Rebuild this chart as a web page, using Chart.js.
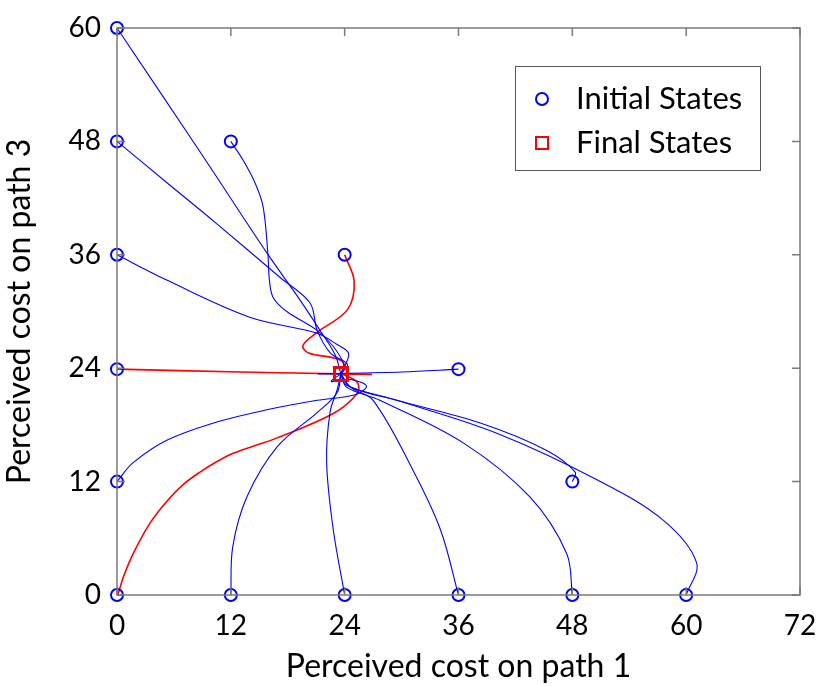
<!DOCTYPE html>
<html lang="en">
  <head>
    <meta charset="UTF-8" />
    <title>Perceived cost trajectories</title>
    <script src="https://cdn.jsdelivr.net/npm/chart.js"></script>
    <style>
      body { margin: 0; background: #fff; }
      #wrap { width: 820px; height: 686px; }
    </style>
  </head>
  <body>
    <div id="wrap"><canvas id="costChart" width="820" height="686"></canvas></div>

    <script>
      // axis ticks
      const xTicks = [0, 12, 24, 36, 48, 60, 72];
      const yTicks = [0, 12, 24, 36, 48, 60];

      // trajectories: [path1 cost, path3 cost]
      const trajFrom0_60 = [[0, 60], [8.75, 46.9], [15.8, 36.2], [19.3, 31.2], [21.4, 28.0], [23.0, 25.4], [23.6, 23.4]];
      const trajFrom0_48 = [[0, 48], [5.3, 43.6], [10.5, 39.3], [17.2, 33.6], [20.35, 30.9], [21.1, 28.0], [22.5, 25.6], [24.3, 24.4], [23.6, 23.4]];
      const trajFrom0_36 = [[0, 36], [5.3, 33.3], [14.0, 29.4], [21.1, 27.7], [23.2, 26.5], [24.4, 25.6], [24.1, 24.4], [23.6, 23.4]];
      const trajFrom12_48 = [[12, 48], [13.3, 46.0], [14.6, 43.5], [15.4, 41.1], [15.9, 36.2], [16.1, 33.0], [16.5, 31.4], [17.9, 30.0], [21.1, 28.0], [22.8, 26.3], [23.9, 24.4], [23.6, 23.4]];
      const trajFrom24_36 = [[24, 36], [25.0, 33.2], [24.3, 30.2], [21.1, 27.8], [19.6, 26.4], [20.2, 25.6], [23.2, 25.0], [24.0, 24.3], [23.6, 23.4]];
      const trajFrom0_24 = [[0, 23.9], [13, 23.6], [26.7, 23.35], [23.6, 23.4]];
      const trajFrom36_24 = [[36, 23.9], [30, 23.6], [21.3, 23.4], [23.6, 23.4]];
      const trajFrom0_12 = [[0, 12], [1.7, 14.0], [5.3, 16.4], [10.5, 18.3], [15.8, 19.6], [21.1, 20.6], [25.1, 21.2], [26.3, 22.1], [24.6, 22.8], [22.6, 22.6], [23.6, 23.4]];
      const trajFrom0_0 = [[0, 0], [0.14, 0.2], [0.67, 1.9], [1.72, 4.4], [3.48, 7.6], [5.24, 9.9], [7.0, 11.7], [8.75, 13.0], [10.5, 14.1], [12.26, 15.0], [14.5, 15.8], [16.83, 16.6], [22.8, 19.2], [25.3, 21.3], [25.4, 22.4], [24.6, 23.0], [23.6, 23.4]];
      const trajFrom12_0 = [[12, 0], [12.2, 5.1], [13.7, 10.4], [16.9, 15.7], [21.1, 19.3], [23.2, 21.4], [23.6, 23.4]];
      const trajFrom24_0 = [[24, 0], [22.8, 6.9], [22.1, 14.0], [22.45, 19.3], [23.2, 21.7], [23.6, 23.4]];
      const trajFrom36_0 = [[36, 0], [34.1, 6.9], [31.2, 13.2], [27.0, 20.6], [24.6, 22.0], [23.6, 23.4]];
      const trajFrom48_0 = [[48, 0], [47.4, 4.4], [43.5, 10.4], [36.5, 16.1], [27.7, 20.6], [24.2, 22.0], [23.6, 23.4]];
      const trajFrom60_0 = [[60, 0], [61.1, 3.4], [57.6, 7.9], [50.6, 12.2], [40.1, 17.1], [29.5, 20.6], [24.2, 22.2], [23.6, 23.4]];
      const trajFrom48_12 = [[48, 12], [48.3, 13.0], [45.3, 15.3], [38.3, 18.2], [29.5, 20.6], [24.6, 22.0], [23.6, 23.4]];

      const blueTrajectories = [trajFrom0_60, trajFrom0_48, trajFrom0_36, trajFrom12_48, trajFrom36_24, trajFrom0_12,
        trajFrom12_0, trajFrom24_0, trajFrom36_0, trajFrom48_0, trajFrom60_0, trajFrom48_12];
      const redTrajectories = [trajFrom24_36, trajFrom0_24, trajFrom0_0];

      const allTrajectories = blueTrajectories.concat(redTrajectories);
      const toXY = (p) => ({ x: p[0], y: p[1] });
      const initialStates = allTrajectories.map((t) => toXY(t[0]));
      const finalStates = allTrajectories.map((t) => toXY(t[t.length - 1]));

      const FONT = "Lato, 'Open Sans', sans-serif";

      const lineSet = (pts, color, width) => ({
        data: pts.map(toXY),
        showLine: true,
        borderColor: color,
        borderWidth: width,
        pointRadius: 0,
        tension: 0.35,
        clip: false,
        order: 2,
      });

      // frame with inward ticks, MATLAB style
      const framePlugin = {
        id: "frame",
        afterDatasetsDraw(chart) {
          const { ctx, chartArea: a, scales } = chart;
          ctx.save();
          ctx.strokeStyle = "#7a7a7a";
          ctx.lineWidth = 1.5;
          ctx.strokeRect(a.left, a.top, a.right - a.left, a.bottom - a.top);
          ctx.beginPath();
          xTicks.forEach((v) => {
            const px = scales.x.getPixelForValue(v);
            ctx.moveTo(px, a.bottom); ctx.lineTo(px, a.bottom - 8);
            ctx.moveTo(px, a.top); ctx.lineTo(px, a.top + 8);
          });
          yTicks.forEach((v) => {
            const py = scales.y.getPixelForValue(v);
            ctx.moveTo(a.left, py); ctx.lineTo(a.left + 8, py);
            ctx.moveTo(a.right, py); ctx.lineTo(a.right - 8, py);
          });
          ctx.stroke();
          ctx.restore();
        },
        afterDraw(chart) {
          const { ctx } = chart;
          ctx.save();
          ctx.fillStyle = "#fff";
          ctx.fillRect(515, 66, 245, 104);
          ctx.strokeStyle = "#555";
          ctx.lineWidth = 1;
          ctx.strokeRect(515.5, 66.5, 245, 104);
          ctx.lineWidth = 2;
          ctx.strokeStyle = "#0000ff";
          ctx.beginPath();
          ctx.arc(542, 99, 6, 0, Math.PI * 2);
          ctx.stroke();
          ctx.strokeStyle = "#ff0000";
          ctx.strokeRect(536, 137, 12, 12);
          ctx.fillStyle = "#000";
          ctx.font = "31px " + FONT;
          ctx.textBaseline = "middle";
          ctx.fillText("Initial States", 576, 99);
          ctx.fillText("Final States", 576, 143);
          ctx.restore();
        },
      };

      new Chart(document.getElementById("costChart"), {
        type: "scatter",
        data: {
          datasets: [
            ...blueTrajectories.map((t) => lineSet(t, "#0000ff", 1.1)),
            ...redTrajectories.map((t) => lineSet(t, "#ff0000", 1.6)),
            {
              label: "Initial States",
              data: initialStates,
              pointStyle: "circle",
              pointRadius: 6,
              borderWidth: 2,
              borderColor: "#0000ff",
              backgroundColor: "rgba(0,0,0,0)",
              clip: false,
              order: 0,
            },
            {
              label: "Final States",
              data: finalStates,
              pointStyle: "rect",
              pointRadius: 9,
              borderWidth: 2.5,
              borderColor: "#ff0000",
              backgroundColor: "rgba(0,0,0,0)",
              clip: false,
              order: 1,
            },
          ],
        },
        options: {
          responsive: false,
          animation: false,
          devicePixelRatio: 1,
          layout: { padding: { top: 28, right: 20, left: 0, bottom: 0 } },
          plugins: { legend: { display: false }, tooltip: { enabled: false } },
          scales: {
            x: {
              min: 0,
              max: 72,
              afterFit: (s) => { s.height = 91; s.paddingLeft = 0; s.paddingRight = 0; },
              afterBuildTicks: (s) => { s.ticks = xTicks.map((v) => ({ value: v })); },
              grid: { display: false, drawTicks: false },
              border: { display: false },
              ticks: { color: "#000", font: { family: FONT, size: 28 }, padding: 14 },
              title: { display: true, text: "Perceived cost on path 1", color: "#000", font: { family: FONT, size: 32 }, padding: { top: 4, bottom: 0 } },
            },
            y: {
              min: 0,
              max: 60,
              afterFit: (s) => { s.width = 117; s.paddingTop = 0; s.paddingBottom = 0; },
              afterBuildTicks: (s) => { s.ticks = yTicks.map((v) => ({ value: v })); },
              grid: { display: false, drawTicks: false },
              border: { display: false },
              ticks: { color: "#000", font: { family: FONT, size: 28 }, padding: 16 },
              title: { display: true, text: "Perceived cost on path 3", color: "#000", font: { family: FONT, size: 32 }, padding: { top: 0, bottom: 0 } },
            },
          },
        },
        plugins: [framePlugin],
      });
    </script>
  </body>
</html>
